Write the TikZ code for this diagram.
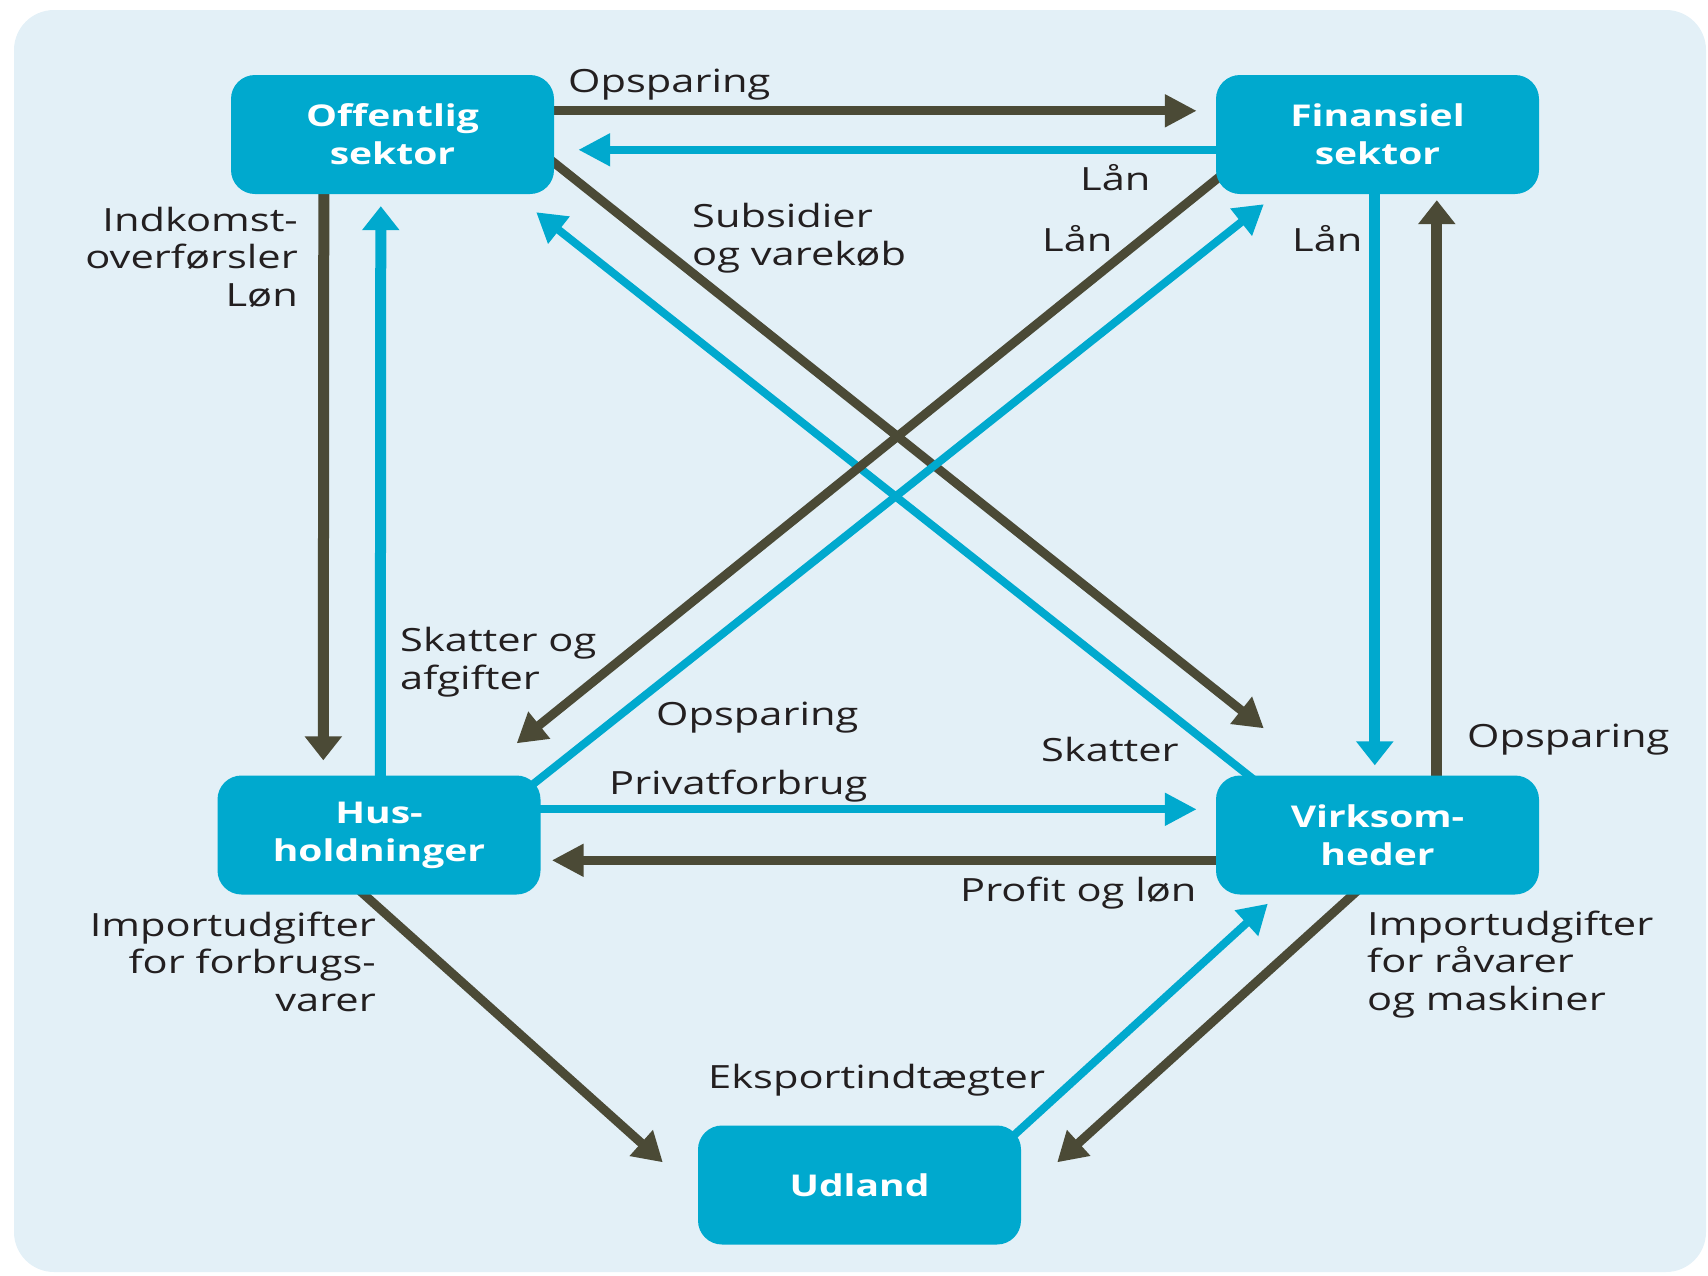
\documentclass[tikz,border=0pt]{standalone}
\usepackage{fontspec}
\newfontfamily\labfont{Open Sans}[FakeStretch=1.3]
\usetikzlibrary{arrows.meta,calc}
\definecolor{bgc}{HTML}{E3F0F7}
\definecolor{boxc}{HTML}{00A9CE}
\definecolor{darkc}{HTML}{4B4A36}
\definecolor{txtc}{HTML}{231F20}
\pgfdeclarelayer{back}
\pgfdeclarelayer{arrows}
\pgfsetlayers{back,arrows,main}
\tikzset{
  sector/.style={fill=boxc, draw=none, rounded corners=24pt, minimum width=323pt,
    minimum height=119pt, inner sep=0pt, text=white, align=center,
    font=\labfont\bfseries\fontsize{30}{38}\selectfont},
  darkarr/.style={draw=darkc, line width=9pt, shorten <=-14pt},
  bluearr/.style={draw=boxc, line width=8pt, shorten <=-14pt},
  hz/.style={-{Triangle[length=32pt,width=31pt]}},
  vt/.style={line width=11pt, -{Triangle[length=24pt,width=36pt]}},
  dg/.style={-{Triangle[length=29pt,width=33pt]}},
  lbl/.style={text=txtc, font=\labfont\fontsize{32}{37.5}\selectfont, inner sep=0pt,
    anchor=base west, align=left},
  lblr/.style={lbl, anchor=base east, align=right},
}
\begin{document}
\begin{tikzpicture}[x=1pt,y=-1pt]
\useasboundingbox (0,0) rectangle (1708,1275);
\begin{pgfonlayer}{back}
  \fill[bgc, rounded corners=40pt] (14,10) rectangle (1706,1272);
\end{pgfonlayer}

% sectors
\node[sector] (Off) at (392.5,134.5) {Offentlig\\sektor};
\node[sector] (Fin) at (1377.5,134.5) {Finansiel\\sektor};
\node[sector] (Hus) at (379,835) {Hus-\\holdninger};
\node[sector] (Vir) at (1377.5,835) {Virksom-\\heder};
\node[sector] (Udl) at (859.5,1185) {Udland};

% connectors
\begin{pgfonlayer}{arrows}
  % top
  \draw[darkarr,hz] ($(Off.north east)+(0,36)$) -- ($(Fin.north west)+(-19,36)$);
  \draw[bluearr,hz] ($(Fin.north west)+(0,75)$) -- ($(Off.north east)+(24,75)$);
  % left
  \draw[darkarr,vt] ($(Off.south west)+(93,0)$) -- ($(Hus.north west)+(106,-15)$);
  \draw[bluearr,vt] ($(Hus.north west)+(163,0)$) -- ($(Off.south west)+(150,12)$);
  % right
  \draw[bluearr,vt] ($(Fin.south west)+(159,0)$) -- ($(Vir.north west)+(159,-10)$);
  \draw[darkarr,vt] ($(Vir.north west)+(221,0)$) -- ($(Fin.south west)+(221,6)$);
  % middle horizontal
  \draw[bluearr,hz] ($(Hus.north east)+(0,34)$) -- ($(Vir.north west)+(-19,34)$);
  \draw[darkarr,hz] ($(Vir.north west)+(0,85)$) -- ($(Hus.north east)+(11,85)$);
  % diagonals
  \draw[darkarr,dg] ($(Off.north east)+(0,88)$) -- ($(Vir.north west)+(48,-47)$);
  \draw[bluearr,dg] ($(Vir.north west)+(30,-2)$) -- ($(Off.south east)+(-18,18)$);
  \draw[darkarr,dg] ($(Fin.north west)+(0,105)$) -- ($(Hus.north east)+(-24,-32)$);
  \draw[bluearr,dg] ($(Hus.north east)+(-4,6)$) -- ($(Fin.south west)+(48,10)$);
  % to and from Udland
  \draw[darkarr,dg] ($(Hus.south west)+(147,0)$) -- ($(Udl.north west)+(-35,37)$);
  \draw[bluearr,dg] ($(Udl.north east)+(-4,7)$) -- ($(Vir.south west)+(52,9)$);
  \draw[darkarr,dg] ($(Vir.south west)+(136,1)$) -- ($(Udl.north east)+(36,37)$);
\end{pgfonlayer}

% labels (multi-line: anchor at last line's baseline)
\node[lbl] (lOps1) at (568,92) {Opsparing};
\node[lbl] (lLan1) at (1080,190) {Lån};
\node[lbl] (lSub) at (692,265) {Subsidier\\og varekøb};
\node[lbl] (lLan2) at (1042,251) {Lån};
\node[lbl] (lLan3) at (1292,251) {Lån};
\node[lblr] (lInd) at (298,306) {Indkomst-\\overførsler\\Løn};
\node[lbl] (lSka) at (400,689) {Skatter og\\afgifter};
\node[lbl] (lOps2) at (656,725) {Opsparing};
\node[lbl] (lSkat) at (1041,761) {Skatter};
\node[lbl] (lOps3) at (1467,747) {Opsparing};
\node[lbl] (lPriv) at (609,794) {Privatforbrug};
\node[lbl] (lProf) at (960,901) {Profit og løn};
\node[lblr] (lImp1) at (376,1011) {Importudgifter\\for forbrugs-\\varer};
\node[lbl] (lImp2) at (1367,1010) {Importudgifter\\for råvarer\\og maskiner};
\node[lbl] (lEks) at (708,1088) {Eksportindtægter};
\end{tikzpicture}
\end{document}
